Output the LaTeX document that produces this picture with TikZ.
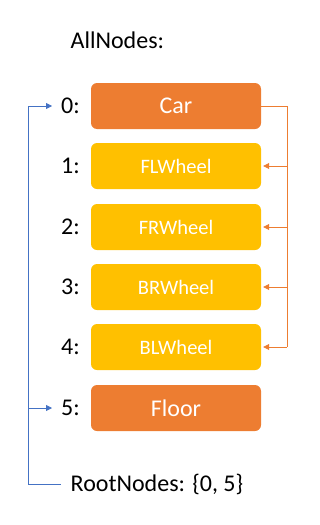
\documentclass[tikz,border=0pt]{standalone}
\usepackage{fontspec}
\setmainfont{Carlito}
\usetikzlibrary{arrows.meta}
\definecolor{orng}{HTML}{ED7D31}
\definecolor{yllw}{HTML}{FFC000}
\definecolor{blu}{HTML}{4472C4}
\begin{document}
\begin{tikzpicture}[x=1pt,y=-1pt,
  box/.style={rounded corners=6pt,minimum width=170pt,minimum height=46pt,inner sep=0pt,text=white},
  rootbox/.style={box,fill=orng,font=\fontsize{24}{28}\selectfont},
  childbox/.style={box,fill=yllw,font=\fontsize{20.5}{24}\selectfont},
  idx/.style={anchor=east,inner sep=0pt,font=\fontsize{24}{28}\selectfont},
  txt/.style={anchor=west,inner sep=0pt,font=\fontsize{24}{28}\selectfont},
  oline/.style={draw=orng,line width=0.8pt},
  bline/.style={draw=blu,line width=0.8pt},
  tip/.style={-{Triangle[length=6pt,width=6pt]}}
]
\useasboundingbox (0,0) rectangle (320,525);
\node[txt] (all) at (70.5,40) {AllNodes:};
\node[rootbox]  (b0) at (176,106) {Car};
\node[childbox] (b1) at (176,166) {FLWheel};
\node[childbox] (b2) at (176,227) {FRWheel};
\node[childbox] (b3) at (176,287) {BRWheel};
\node[childbox] (b4) at (176,347) {BLWheel};
\node[rootbox]  (b5) at (176,408) {Floor};
\node[idx] (l0) at (80,106) {0:};
\node[idx] (l1) at (80,166) {1:};
\node[idx] (l2) at (80,227) {2:};
\node[idx] (l3) at (80,287) {3:};
\node[idx] (l4) at (80,347) {4:};
\node[idx] (l5) at (80,408) {5:};
\node[txt] (root) at (70.5,484) {RootNodes: \{0, 5\}};
% orange connectors
\coordinate (ox) at (287,0);
\draw[oline] (b0.east) -- (b0.east -| ox) -- (b4.east -| ox);
\foreach \i in {1,2,3,4}{
  \draw[oline,tip,shorten >=2pt] (b\i.east -| ox) -- (b\i.east);
}
% blue connectors
\coordinate (bx) at (28,0);
\draw[bline,tip,shorten <=10pt,shorten >=9pt] (root.west) -- (root.west -| bx) -- (l0.west -| bx) -- (l0.west);
\draw[bline,tip,shorten >=9pt] (l5.west -| bx) -- (l5.west);
\end{tikzpicture}
\end{document}
